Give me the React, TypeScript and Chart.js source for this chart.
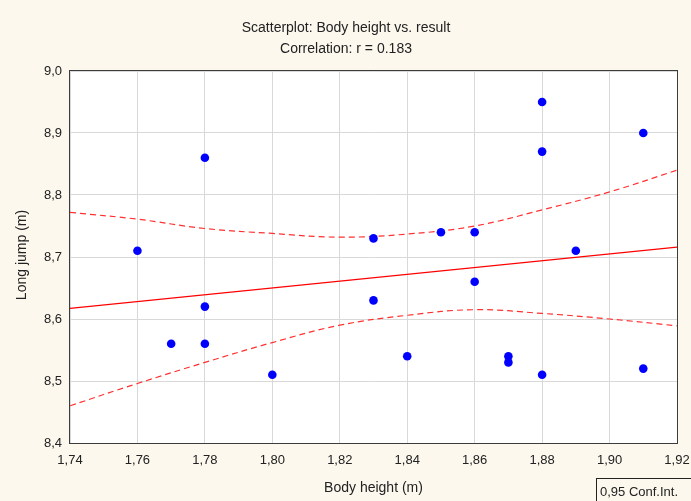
import React, { useEffect, useRef } from "react";
import { Chart, registerables } from "chart.js";

Chart.register(...registerables);

const heights = [1.76, 1.77, 1.78, 1.78, 1.78, 1.80, 1.83, 1.83, 1.84, 1.85, 1.86, 1.86, 1.87, 1.87, 1.88, 1.88, 1.88, 1.89, 1.91, 1.91];
const jumps = [8.71, 8.56, 8.86, 8.62, 8.56, 8.51, 8.73, 8.63, 8.54, 8.74, 8.74, 8.66, 8.54, 8.53, 8.95, 8.87, 8.51, 8.71, 8.90, 8.52];

const fitX = [1.74, 1.92];
const fitY = [8.617, 8.716];

const ciX = [1.74, 1.76, 1.78, 1.80, 1.82, 1.84, 1.86, 1.88, 1.90, 1.92];
const ciUpper = [8.772, 8.761, 8.746, 8.738, 8.732, 8.737, 8.750, 8.776, 8.805, 8.840];
const ciLower = [8.460, 8.496, 8.530, 8.562, 8.590, 8.606, 8.615, 8.609, 8.600, 8.589];

const xTicks = [1.74, 1.76, 1.78, 1.80, 1.82, 1.84, 1.86, 1.88, 1.90, 1.92];
const yTicks = [8.4, 8.5, 8.6, 8.7, 8.8, 8.9, 9.0];

const titleLines = ["Scatterplot: Body height vs. result", "Correlation: r = 0.183"];
const xTitle = "Body height (m)";
const yTitle = "Long jump (m)";
const legendText = "0,95 Conf.Int.";

const FONT = "'Liberation Sans', Arial, sans-serif";
const BG = "#FCF8EE";

export default function App() {
  const ref = useRef<HTMLCanvasElement>(null);

  useEffect(() => {
    document.body.style.margin = "0";
    const canvas = ref.current!;
    const decor = {
      id: "decor",
      beforeDraw(chart: any) {
        const { ctx, chartArea: a } = chart;
        ctx.save();
        ctx.fillStyle = BG;
        ctx.fillRect(0, 0, chart.width, chart.height);
        ctx.fillStyle = "#ffffff";
        ctx.fillRect(a.left, a.top, a.right - a.left, a.bottom - a.top);
        ctx.restore();
      },
      afterDraw(chart: any) {
        const { ctx, chartArea: a } = chart;
        ctx.save();
        ctx.strokeStyle = "#3c3c3c";
        ctx.lineWidth = 1;
        ctx.strokeRect(Math.round(a.left) - 0.5, Math.round(a.top) - 0.5, Math.round(a.right - a.left) + 1, Math.round(a.bottom - a.top) + 1);
        ctx.fillStyle = "#222";
        ctx.font = `14px ${FONT}`;
        ctx.textAlign = "center";
        ctx.textBaseline = "middle";
        ctx.fillText(titleLines[0], 346, 28);
        ctx.fillText(titleLines[1], 346, 49);
        ctx.fillText(xTitle, (a.left + a.right) / 2, 488);
        ctx.save();
        ctx.translate(22, 255);
        ctx.rotate(-Math.PI / 2);
        ctx.fillText(yTitle, 0, 0);
        ctx.restore();
        // legend box
        ctx.font = `13px ${FONT}`;
        ctx.strokeStyle = "#222";
        ctx.strokeRect(596.5, 478.5, 100, 30);
        ctx.textAlign = "left";
        ctx.fillText(legendText, 600, 492);
        ctx.restore();
      },
    };

    const chart = new Chart(canvas, {
      type: "scatter",
      data: {
        datasets: [
          {
            label: "points",
            data: heights.map((h, i) => ({ x: h, y: jumps[i] })),
            backgroundColor: "#0000ff",
            borderColor: "#0000ff",
            pointRadius: 4.3,
            pointBorderWidth: 0,
            showLine: false,
            order: 0,
          },
          {
            label: "fit",
            data: fitX.map((x, i) => ({ x, y: fitY[i] })),
            borderColor: "#ff0000",
            borderWidth: 1.2,
            pointRadius: 0,
            showLine: true,
            order: 1,
          },
          {
            label: "upper",
            data: ciX.map((x, i) => ({ x, y: ciUpper[i] })),
            borderColor: "#ff3030",
            borderWidth: 1.2,
            borderDash: [6, 4],
            pointRadius: 0,
            showLine: true,
            tension: 0.4,
            order: 2,
          },
          {
            label: "lower",
            data: ciX.map((x, i) => ({ x, y: ciLower[i] })),
            borderColor: "#ff3030",
            borderWidth: 1.2,
            borderDash: [6, 4],
            pointRadius: 0,
            showLine: true,
            tension: 0.4,
            order: 3,
          },
        ],
      },
      options: {
        animation: false,
        responsive: false,
        events: [],
        layout: { padding: { top: 71, right: 14, left: 0, bottom: 0 } },
        plugins: { legend: { display: false }, tooltip: { enabled: false }, title: { display: false } },
        scales: {
          x: {
            type: "linear",
            min: 1.74,
            max: 1.92,
            afterBuildTicks: (s: any) => { s.ticks = xTicks.map((v) => ({ value: v })); },
            afterFit: (s: any) => { s.height = 58; s.paddingLeft = 0; s.paddingRight = 0; },
            grid: { color: "#d9d9d9", drawTicks: false, lineWidth: 1 },
            border: { display: false },
            ticks: {
              padding: 10,
              color: "#222",
              font: { family: FONT, size: 13 },
              maxRotation: 0,
              autoSkip: false,
              callback: (v: any) => Number(v).toFixed(2).replace(".", ","),
            },
          },
          y: {
            type: "linear",
            min: 8.4,
            max: 9.0,
            afterBuildTicks: (s: any) => { s.ticks = yTicks.map((v) => ({ value: v })); },
            afterFit: (s: any) => { s.width = 70; s.paddingTop = 0; s.paddingBottom = 0; },
            grid: { color: "#d9d9d9", drawTicks: false, lineWidth: 1 },
            border: { display: false },
            ticks: {
              padding: 8,
              color: "#222",
              font: { family: FONT, size: 13 },
              autoSkip: false,
              callback: (v: any) => Number(v).toFixed(1).replace(".", ","),
            },
          },
        },
      },
      plugins: [decor],
    });
    return () => chart.destroy();
  }, []);

  return (
    <div style={{ width: 691, height: 501, background: BG }}>
      <canvas ref={ref} width={691} height={501} style={{ display: "block" }} />
    </div>
  );
}
